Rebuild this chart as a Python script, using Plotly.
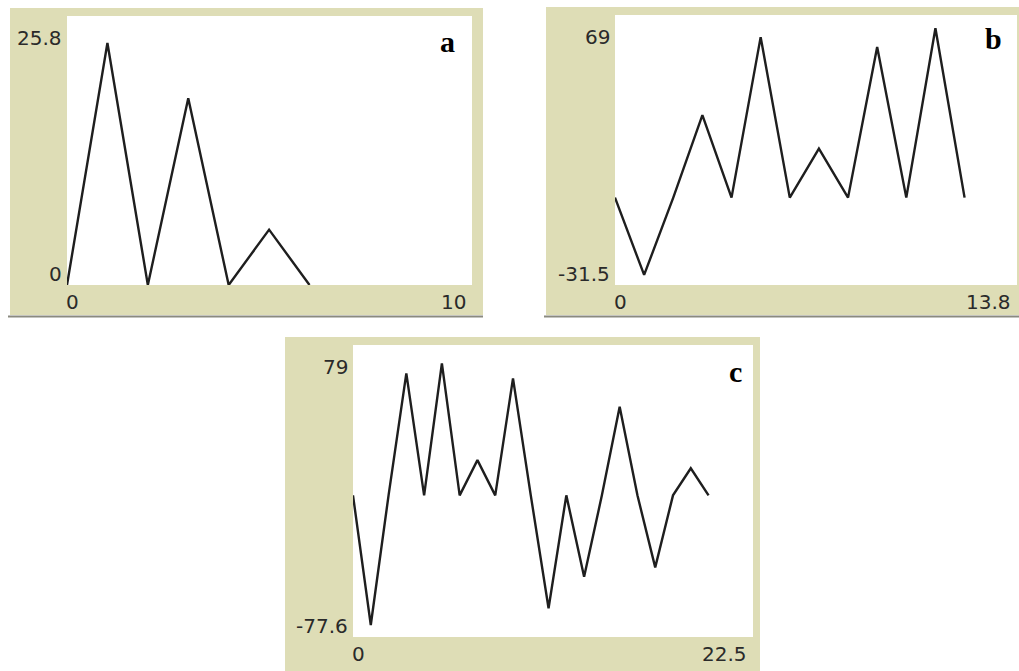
import plotly.graph_objects as go

# ---------------- data ----------------
steps_a = [0, 1, 2, 3, 4, 5, 6]
values_a = [0, 25.8, 0, 19.9, 0, 5.9, 0]

steps_b = [0, 1, 2, 3, 4, 5, 6, 7, 8, 9, 10, 11, 12]
values_b = [0, -31.5, 0, 33.6, 0, 65.4, 0, 20.0, 0, 61.4, 0, 69.0, 0]

steps_c = [0, 1, 2, 3, 4, 5, 6, 7, 8, 9, 10, 11, 12, 13, 14, 15, 16, 17, 18, 19, 20]
values_c = [0, -77.6, 0, 73.0, 0, 79.0, 0, 21.1, 0, 70.0, 0, -67.6, 0, -48.7, 0, 53.0, 0, -43.1, 0, 16.2, 0]

panel_letters = ["a", "b", "c"]
x_min_labels = ["0", "0", "0"]
x_max_labels = ["10", "13.8", "22.5"]
y_min_labels = ["0", "-31.5", "-77.6"]
y_max_labels = ["25.8", "69", "79"]

# ---------------- layout helpers ----------------
W, H = 1019, 671


def px(x):
    return x / W


def py(y):
    return 1 - y / H


# plot areas in pixels: (left, right, top, bottom)
areas = [(67, 472, 16, 285), (615, 1017, 15, 285), (353, 753, 345, 637)]
# beige frames in pixels
frames = [(10, 483, 8, 315), (546, 1019, 7, 315), (285, 760, 337, 671)]
x_ranges = [[0, 10.02], [0, 13.8], [0, 22.5]]
y_ranges = [[0, 28.68], [-35.6, 74.4], [-84.8, 90.0]]

BEIGE = "#DEDDB6"
LINE = "#1e1e1e"
TXT = "#2a2a2a"

fig = go.Figure()

series = [(steps_a, values_a), (steps_b, values_b), (steps_c, values_c)]
shapes = []
annotations = []

for i, (xs, ys) in enumerate(series):
    n = "" if i == 0 else str(i + 1)
    xa, ya = "x" + n, "y" + n
    fig.add_trace(go.Scatter(x=xs, y=ys, mode="lines", xaxis=xa, yaxis=ya,
                             line=dict(color=LINE, width=2.4), showlegend=False,
                             hoverinfo="skip"))
    l, r, t, b = areas[i]
    fl, fr, ft, fb = frames[i]
    axis_common = dict(showgrid=False, zeroline=False, showline=False,
                       showticklabels=False, ticks="", fixedrange=True)
    fig.layout["xaxis" + n] = dict(domain=[px(l), px(r)], range=x_ranges[i],
                                   anchor=ya, **axis_common)
    fig.layout["yaxis" + n] = dict(domain=[py(b), py(t)], range=y_ranges[i],
                                   anchor=xa, **axis_common)
    # beige frame, shadow line and white plot area
    shapes.append(dict(type="rect", xref="paper", yref="paper", layer="below",
                       x0=px(fl), x1=px(fr), y0=py(fb), y1=py(ft),
                       fillcolor=BEIGE, line=dict(width=0)))
    if i < 2:
        shapes.append(dict(type="line", xref="paper", yref="paper", layer="below",
                           x0=px(fl - 2), x1=px(fr), y0=py(fb + 1.5), y1=py(fb + 1.5),
                           line=dict(color="#8a8a80", width=2)))
    shapes.append(dict(type="rect", xref="paper", yref="paper", layer="below",
                       x0=px(l), x1=px(r), y0=py(b), y1=py(t),
                       fillcolor="white", line=dict(width=0)))

    font = dict(family="DejaVu Sans", size=20, color=TXT)
    xd, yd = xa + " domain", ya + " domain"
    # y labels
    annotations.append(dict(text=y_max_labels[i], xref=xd, yref=yd, x=0, y=1,
                            xanchor="right", yanchor="middle", xshift=-3,
                            yshift=-22, showarrow=False, font=font))
    annotations.append(dict(text=y_min_labels[i], xref=xd, yref=yd, x=0, y=0,
                            xanchor="right", yanchor="middle", xshift=-3,
                            yshift=11, showarrow=False, font=font))
    # x labels
    annotations.append(dict(text=x_min_labels[i], xref=xd, yref=yd, x=0, y=0,
                            xanchor="left", yanchor="middle", xshift=-3,
                            yshift=-17, showarrow=False, font=font))
    annotations.append(dict(text=x_max_labels[i], xref=xd, yref=yd, x=1, y=0,
                            xanchor="right", yanchor="middle", xshift=-4,
                            yshift=-17, showarrow=False, font=font))

# panel letters
letter_pos = [(447, 41), (993, 39), (735, 371)]
for letter, (lx, ly) in zip(panel_letters, letter_pos):
    annotations.append(dict(text="<b>" + letter + "</b>", xref="paper", yref="paper",
                            x=px(lx), y=py(ly), xanchor="center", yanchor="middle",
                            showarrow=False,
                            font=dict(family="Liberation Serif", size=30, color="black")))

fig.update_layout(width=W, height=H, margin=dict(l=0, r=0, t=0, b=0),
                  paper_bgcolor="white", plot_bgcolor="rgba(0,0,0,0)",
                  shapes=shapes, annotations=annotations, showlegend=False)

fig.write_html("out.html", config=dict(displayModeBar=False),
               post_script="document.body.style.margin='0';document.body.style.overflow='hidden';")
